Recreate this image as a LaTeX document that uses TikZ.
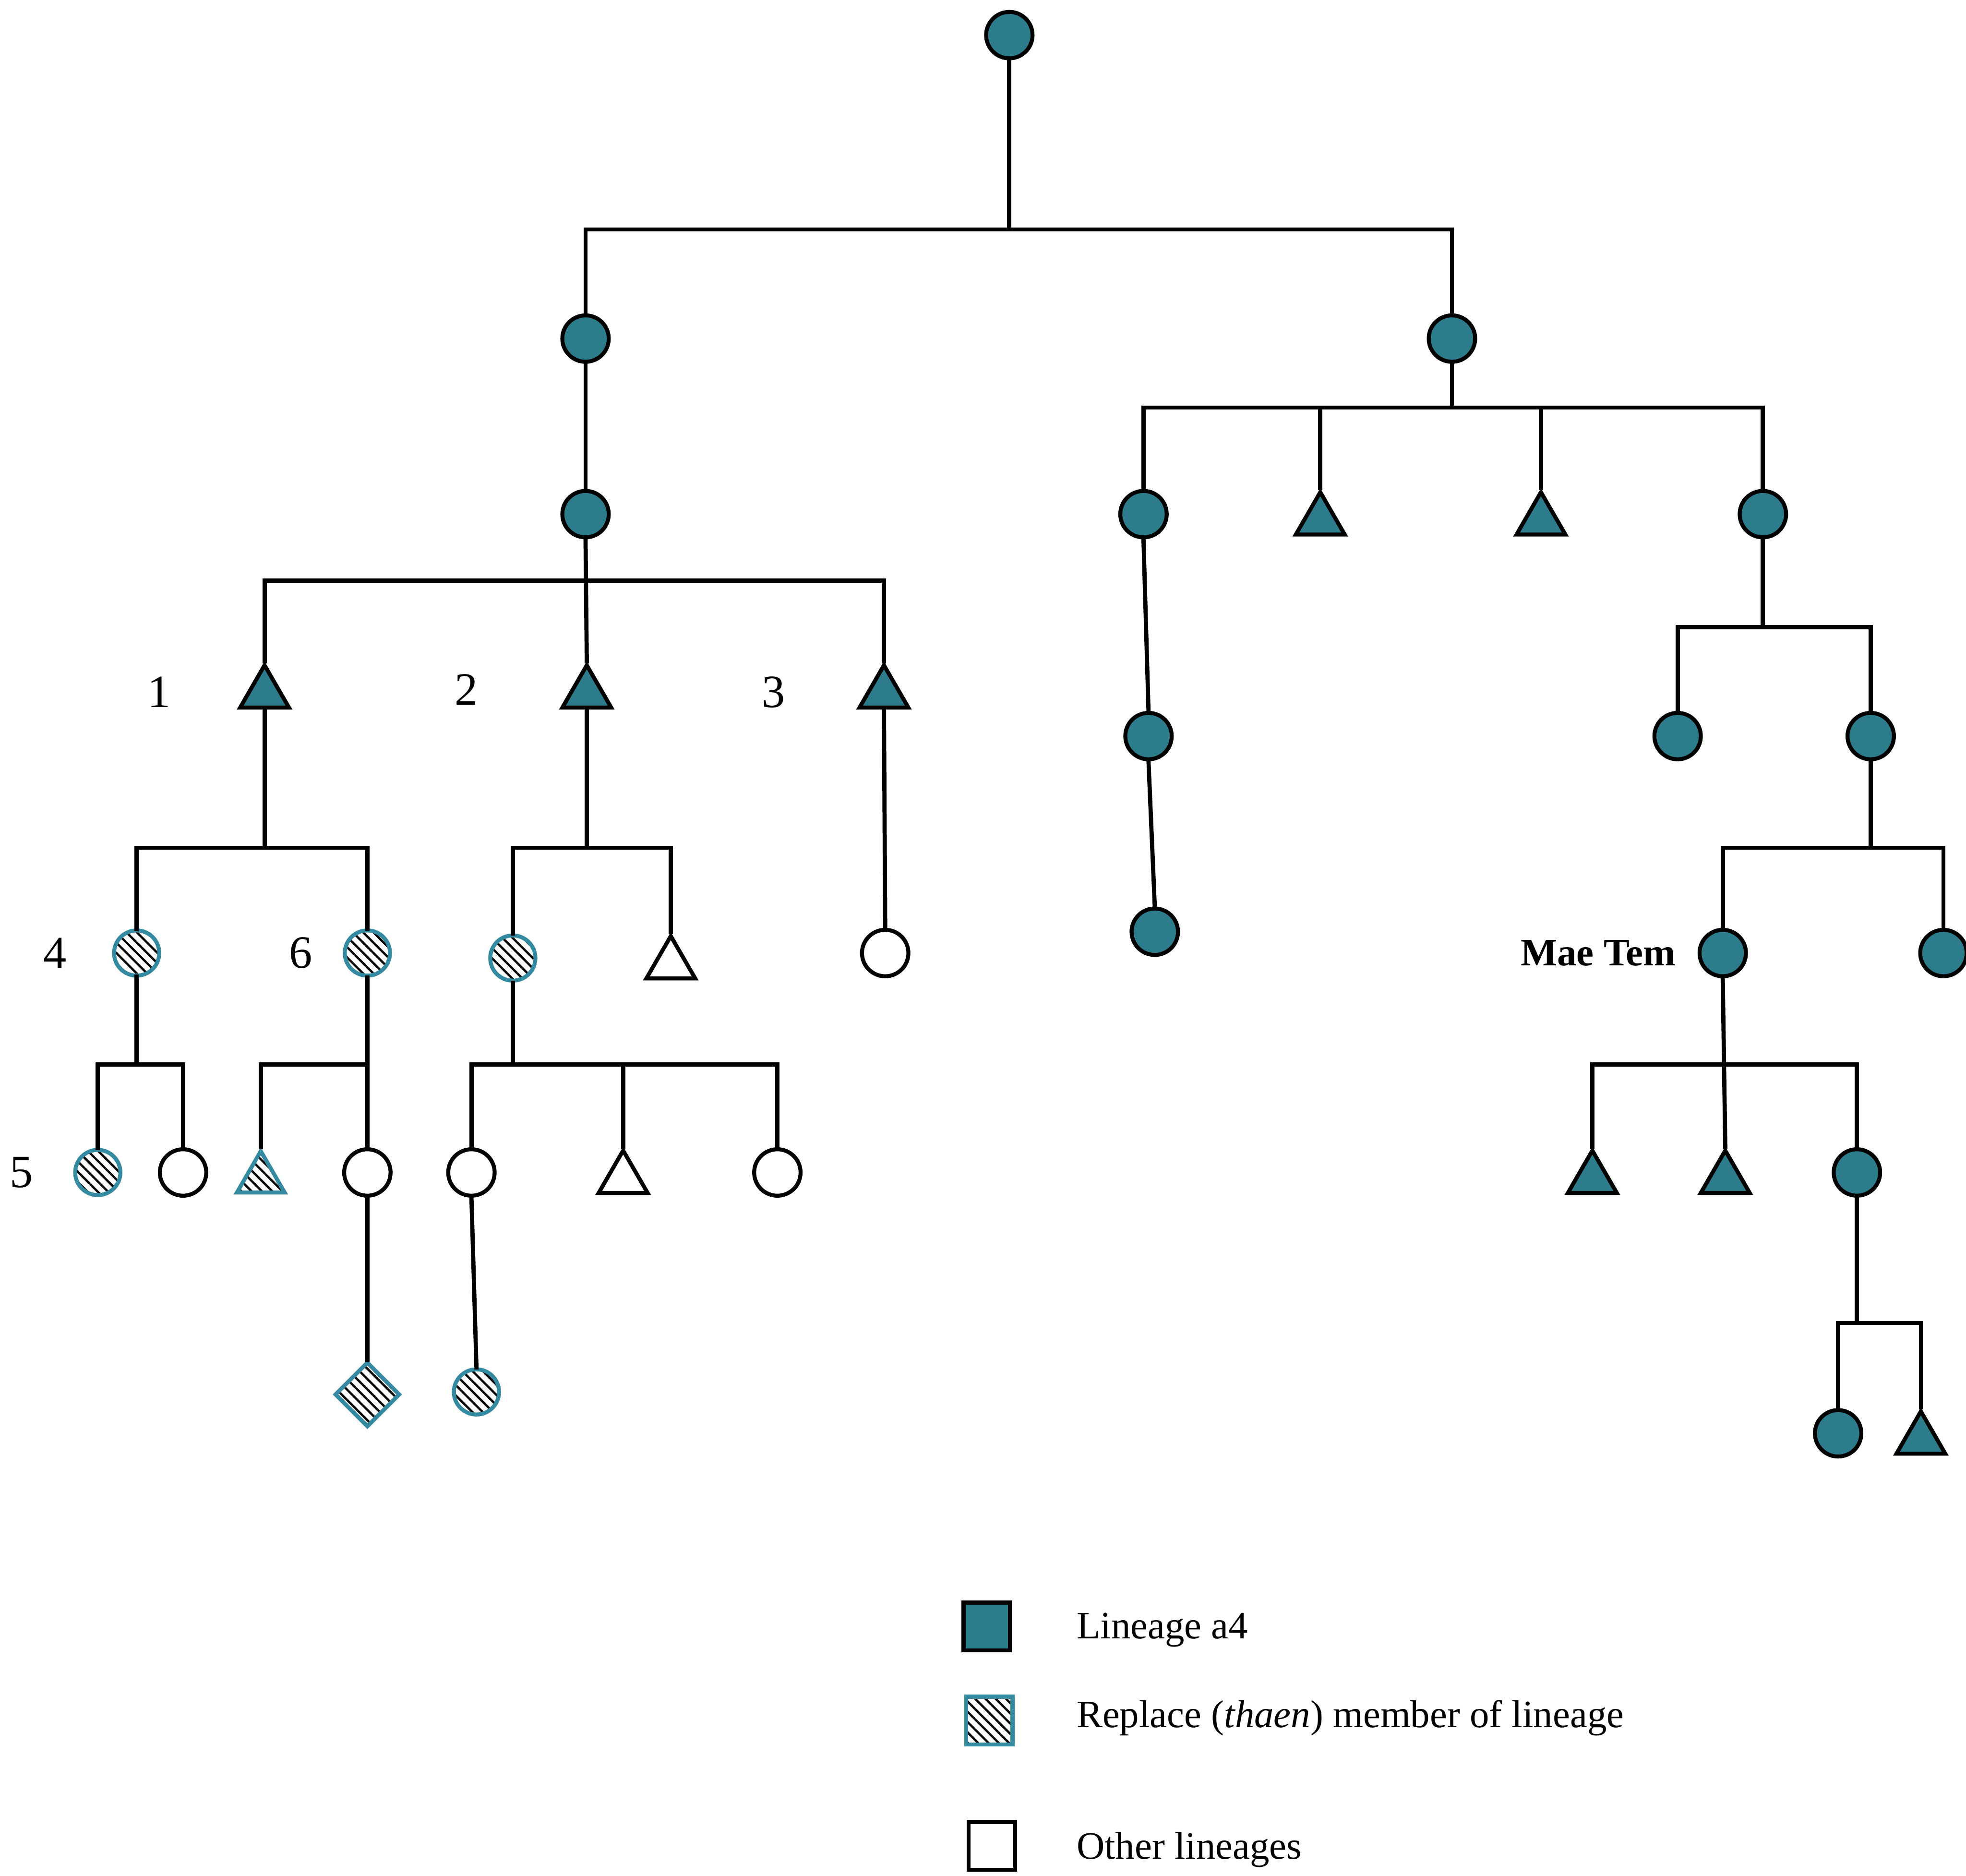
\documentclass[tikz,border=0pt]{standalone}
\usepackage{fontspec}
\setmainfont{Liberation Serif}
\usetikzlibrary{shapes.geometric,patterns.meta}

\definecolor{lineage}{RGB}{45,124,139}
\definecolor{lineedge}{RGB}{52,138,160}

\tikzset{
  kin/.style={line width=0.95pt, line cap=rect},
  sym/.style={inner sep=0pt, line width=0.9pt},
  fcirc/.style={sym, circle, minimum size=0.37cm, draw=black, fill=lineage},
  ftri/.style={sym, regular polygon, regular polygon sides=3, minimum size=0.45cm, draw=black, fill=lineage},
  hatched/.style={pattern={Lines[angle=-45,distance=1.65pt,line width=0.5pt]}, pattern color=black},
  hcirc/.style={sym, circle, minimum size=0.36cm, draw=lineedge, preaction={fill=white}, hatched},
  htri/.style={sym, regular polygon, regular polygon sides=3, minimum size=0.44cm, draw=lineedge, preaction={fill=white}, hatched},
  hdia/.style={sym, diamond, minimum size=0.52cm, draw=lineedge, preaction={fill=white}, hatched},
  ocirc/.style={sym, circle, minimum size=0.37cm, draw=black, fill=white},
  otri/.style={sym, regular polygon, regular polygon sides=3, minimum size=0.45cm, draw=black, fill=white},
  num/.style={font=\fontsize{10.5pt}{12pt}\selectfont, inner sep=0pt},
  legtext/.style={font=\fontsize{8.8pt}{10.5pt}\selectfont, anchor=west, inner sep=0pt},
  legbox/.style={sym, rectangle, minimum width=0.37cm, minimum height=0.38cm},
}

\begin{document}
\begin{tikzpicture}[x=0.01cm, y=-0.01cm]
\useasboundingbox[fill=white] (0,0) rectangle (1568,1496);

% ---- generations 1-3 ----
\node[fcirc] (a) at (805,28) {};
\node[fcirc] (b) at (467,270) {};
\node[fcirc] (c) at (1158,270) {};
\node[fcirc] (d) at (467,410) {};

% ---- left branch: three brothers ----
\node[ftri] (t1) at (211,553) {};
\node[ftri] (t2) at (468,553) {};
\node[ftri] (t3) at (705,553) {};
\node[num] (n1) at (127,552) {1};
\node[num] (n2) at (372,550) {2};
\node[num] (n3) at (617,552) {3};

\node[hcirc] (h4) at (109,760) {};
\node[hcirc] (h6) at (293,760) {};
\node[hcirc] (h2) at (409,764) {};
\node[otri] (w1) at (535,769) {};
\node[ocirc] (o3) at (706,760) {};
\node[num] (n4) at (44,760) {4};
\node[num] (n6) at (240,760) {6};

\node[hcirc] (h5) at (78,935) {};
\node[ocirc] (w2) at (146,935) {};
\node[htri] (ht) at (208,940) {};
\node[ocirc] (w3) at (293,935) {};
\node[ocirc] (w4) at (376,935) {};
\node[otri] (w5) at (497,940) {};
\node[ocirc] (w6) at (620,935) {};
\node[num] (n5) at (17,935) {5};

\node[hdia] (hd) at (293,1112) {};
\node[hcirc] (hc) at (380,1110) {};

% ---- right branch ----
\node[fcirc] (r1) at (912,410) {};
\node[ftri] (r2) at (1053,415) {};
\node[ftri] (r3) at (1229,415) {};
\node[fcirc] (r4) at (1406,410) {};
\node[fcirc] (r5) at (916,587) {};
\node[fcirc] (r6) at (921,743) {};
\node[fcirc] (r7) at (1338,587) {};
\node[fcirc] (r8) at (1492,587) {};
\node[fcirc] (mt) at (1374,760) {};
\node[fcirc] (r9) at (1550,760) {};
\node[font=\bfseries\fontsize{8.8pt}{10.5pt}\selectfont, anchor=east, inner sep=0pt] (mtl) at (1337,760) {Mae Tem};
\node[ftri] (r10) at (1270,940) {};
\node[ftri] (r11) at (1376,940) {};
\node[fcirc] (r12) at (1481,935) {};
\node[fcirc] (r13) at (1466,1143) {};
\node[ftri] (r14) at (1532,1148) {};

% ---- descent lines ----
\begin{scope}[kin]
  \draw (a.south) -- (a.south |- 0,183);
  \draw (b.north) |- (c.north |- 0,183) -- (c.north);
  \draw (b.south) -- (d.north);
  % brothers 1, 2, 3
  \draw (d.south) -- (t2.north);
  \draw (t1.north) |- (t3.north |- 0,463) -- (t3.north);
  % children of 1
  \draw (t1.south) -- (t1.south |- 0,676);
  \draw (h4.north) |- (h6.north |- 0,676) -- (h6.north);
  % children of 2
  \draw (t2.south) -- (t2.south |- 0,676);
  \draw (h2.north) |- (w1.north |- 0,676) -- (w1.north);
  % child of 3
  \draw (t3.south) -- (o3.north);
  % children of 4
  \draw (h4.south) -- (h4.south |- 0,849);
  \draw (h5.north) |- (w2.north |- 0,849) -- (w2.north);
  % children of 6
  \draw (h6.south) -- (w3.north);
  \draw (ht.north) |- (w3.north |- 0,849);
  \draw (w3.south) -- (hd.north);
  % children of the replacement daughter of 2
  \draw (h2.south) -- (h2.south |- 0,849);
  \draw (w4.north) |- (w6.north |- 0,849) -- (w6.north);
  \draw (w5.north) -- (w5.north |- 0,849);
  \draw (w4.south) -- (hc.north);
  % right branch
  \draw (c.south) -- (c.south |- 0,325);
  \draw (r1.north) |- (r4.north |- 0,325) -- (r4.north);
  \draw (r2.north) -- (r2.north |- 0,325);
  \draw (r3.north) -- (r3.north |- 0,325);
  \draw (r1.south) -- (r5.north);
  \draw (r5.south) -- (r6.north);
  \draw (r4.south) -- (r4.south |- 0,500);
  \draw (r7.north) |- (r8.north |- 0,500) -- (r8.north);
  \draw (r8.south) -- (r8.south |- 0,676);
  \draw (mt.north) |- (r9.north |- 0,676) -- (r9.north);
  \draw (mt.south) -- (r11.north);
  \draw (r10.north) |- (r12.north |- 0,849) -- (r12.north);
  \draw (r12.south) -- (r12.south |- 0,1055);
  \draw (r13.north) |- (r14.north |- 0,1055) -- (r14.north);
\end{scope}

% ---- key ----
\node[legbox, draw=black, fill=lineage] (k1) at (787,1297) {};
\node[legbox, draw=lineedge, preaction={fill=white}, hatched] (k2) at (789,1372) {};
\node[legbox, draw=black, fill=white] (k3) at (791,1472) {};
\node[legtext] (k1t) at (858,1300) {Lineage a4};
\node[legtext] (k2t) at (858,1370) {Replace (\textit{thaen}) member of lineage};
\node[legtext] (k3t) at (858,1475) {Other lineages};
\end{tikzpicture}
\end{document}
